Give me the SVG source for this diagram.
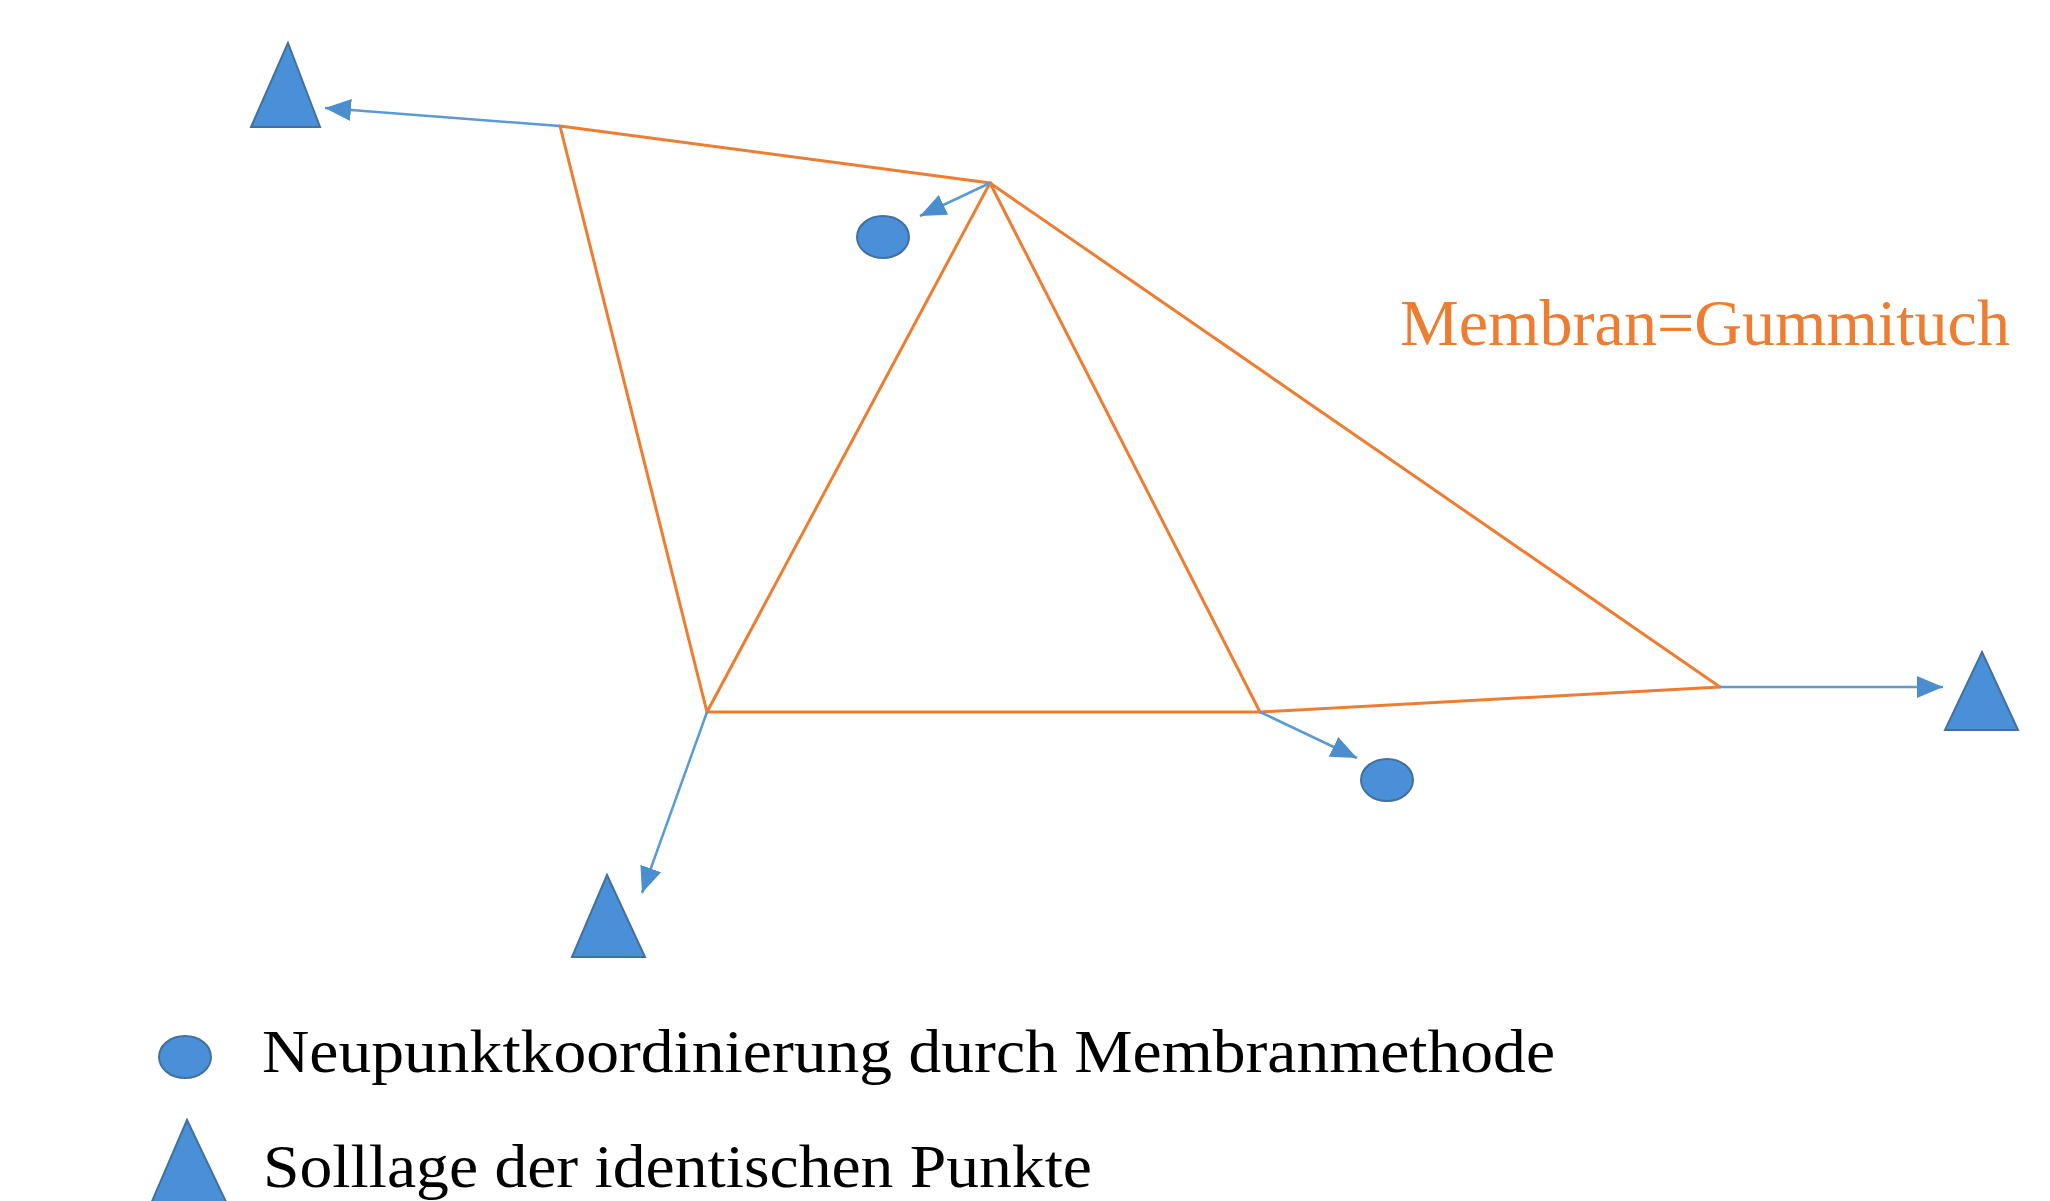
<svg xmlns="http://www.w3.org/2000/svg" width="2050" height="1201" viewBox="0 0 2050 1201">
<style>
.mem{stroke:#ED7D31;stroke-width:3;fill:none;stroke-linecap:round}
.con{stroke:#5B9BD5;stroke-width:2.5;fill:none}
.pt{fill:#4A90D9;stroke:#41719C;stroke-width:2}
.lbl{font-family:"Liberation Serif","Times New Roman",serif;fill:#000}
.org{font-family:"Liberation Serif","Times New Roman",serif;fill:#ED7D31}
</style>
<defs>
<marker id="arr" markerUnits="userSpaceOnUse" markerWidth="28" markerHeight="24" refX="26" refY="12" orient="auto">
<path d="M0,1 L26,12 L0,23 z" fill="#4A8ED0"/>
</marker>
</defs>
<rect width="2050" height="1201" fill="#fff"/>
<g id="membrane">
<polyline class="mem" points="560,126 990,183 707,712 560,126"/>
<line class="mem" x1="990" y1="183" x2="1260" y2="712"/>
<line class="mem" x1="990" y1="183" x2="1720" y2="687"/>
<polyline class="mem" points="707,712 1260,712 1720,687"/>
</g>
<g id="connectors">
<line class="con" x1="560" y1="126" x2="325" y2="108" marker-end="url(#arr)"/>
<line class="con" x1="990" y1="183" x2="920" y2="216" marker-end="url(#arr)"/>
<line class="con" x1="707" y1="712" x2="642" y2="893" marker-end="url(#arr)"/>
<line class="con" x1="1260" y1="712" x2="1357" y2="758" marker-end="url(#arr)"/>
<line class="con" x1="1720" y1="687" x2="1943" y2="687" marker-end="url(#arr)"/>
</g>
<g id="target-top-left"><polygon class="pt" points="288,43 320,127 251,127"/></g>
<g id="target-bottom"><polygon class="pt" points="607,875 645,957 572,957"/></g>
<g id="target-right"><polygon class="pt" points="1982,652 2018,730 1945,730"/></g>
<g id="new-point-top"><ellipse class="pt" cx="883" cy="237" rx="26" ry="21"/></g>
<g id="new-point-bottom"><ellipse class="pt" cx="1387" cy="780" rx="26" ry="21"/></g>
<g id="membrane-label"><text class="org" x="1400" y="345" font-size="65" textLength="610" lengthAdjust="spacingAndGlyphs">Membran=Gummituch</text></g>
<g id="legend">
<ellipse class="pt" cx="185" cy="1057" rx="26" ry="21"/>
<text class="lbl" x="262" y="1072" font-size="62" textLength="1293" lengthAdjust="spacingAndGlyphs">Neupunktkoordinierung durch Membranmethode</text>
<polygon class="pt" points="187,1120 228,1206 150,1206"/>
<text class="lbl" x="263" y="1187" font-size="62" textLength="829" lengthAdjust="spacingAndGlyphs">Solllage der identischen Punkte</text>
</g>
</svg>
